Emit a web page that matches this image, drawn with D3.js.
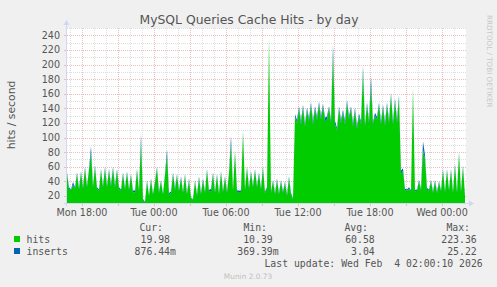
<!DOCTYPE html>
<html><head><meta charset="utf-8">
<script src="https://cdn.jsdelivr.net/npm/d3@7"></script>
<style>
html,body{margin:0;padding:0;background:#f0f0f0;}
svg{display:block;}
text{font-family:"DejaVu Sans",sans-serif;}
.mono{font-family:"DejaVu Sans Mono",monospace;white-space:pre;}
</style></head><body>
<script>
// ---------- data (10-minute samples from Mon 16:45) ----------
const hits = [
 50,30,28,35,30,50,29,52,30,58,
 32,55,80,32,60,30,27,55,32,58,
 32,55,33,58,32,55,30,27,50,29,
 52,28,48,25,25,55,26,95,14,11,
 40,20,42,22,38,58,24,40,22,48,
 76,22,24,50,28,48,26,45,24,48,
 22,42,17,15,40,20,45,22,42,24,
 55,26,27,50,24,48,22,52,25,45,
 24,50,92,27,80,26,24,26,107,28,
 58,30,52,32,55,32,50,29,58,24,
 30,235,24,40,22,42,22,40,24,38,
 20,45,22,16,128,120,140,118,142,115,
 138,122,145,118,140,124,146,125,143,122,
 125,140,120,215,118,110,140,120,135,118,
 148,125,140,115,138,112,130,118,190,115,
 145,120,172,118,130,125,145,118,142,116,
 145,120,158,118,150,120,155,50,55,28,
 27,30,26,165,26,27,40,28,83,70,
 29,27,40,24,40,24,38,26,55,25,
 55,27,55,24,62,24,78,25,60,20
];
const inserts = [
 2,2,1,4,2,2,2,2,2,2,
 2,2,8,2,2,2,2,2,2,2,
 2,2,3,2,3,2,2,2,2,2,
 2,2,2,2,3,2,2,10,2,1,
 2,1,2,1,2,2,2,2,1,2,
 8,2,2,2,3,2,2,2,2,2,
 2,2,1,1,2,2,2,2,2,2,
 2,2,3,2,2,2,2,2,2,2,
 2,2,10,2,2,2,3,2,2,2,
 2,2,2,2,2,2,2,2,2,2,
 2,3,2,2,2,2,2,2,2,2,
 2,2,2,1,4,4,3,5,3,4,
 3,4,3,5,3,4,3,4,3,5,
 4,3,4,12,5,3,3,4,3,5,
 3,4,3,5,3,4,3,4,8,3,
 3,4,12,3,4,3,3,4,3,5,
 3,4,3,4,3,5,3,5,3,2,
 2,2,2,3,2,2,2,2,12,6,
 2,2,2,2,2,2,2,2,2,2,
 2,2,2,2,2,2,2,2,2,1
];
const xTickLabels = ["Mon 18:00","Tue 00:00","Tue 06:00","Tue 12:00","Tue 18:00","Wed 00:00"];
const yTickValues = [20,40,60,80,100,120,140,160,180,200,220,240];
const seriesNames = ["hits","inserts"];
const seriesColors = ["#00cc00","#0066b3"];
const legendHeaders = ["Cur:","Min:","Avg:","Max:"];
const legendHits = ["19.98","10.39","60.58","223.36"];
const legendInserts = ["876.44m","369.39m","3.04","25.22"];
const titleText = "MySQL Queries Cache Hits - by day";
const yLabel = "hits / second";
const lastUpdate = "Last update: Wed Feb  4 02:00:10 2026";
const footer = "Munin 2.0.73";
const sideText = "RRDTOOL / TOBI OETIKER";

// ---------- layout ----------
const W = 497, H = 287;
const L = 67, R = 466, T = 28, B = 203;
const start = new Date(2026,1,2,16,45), end = new Date(2026,1,4,2,0);
const times = hits.map((d,i)=> new Date(start.getTime() + i*10*60000));
const x = d3.scaleTime().domain([start,end]).range([L,R]);
const y = d3.scaleLinear().domain([10.39,250]).range([B,T]);

const svg = d3.select("body").append("svg").attr("width",W).attr("height",H);
svg.append("rect").attr("width",W).attr("height",H).attr("fill","#f0f0f0");
svg.append("rect").attr("x",L).attr("y",T).attr("width",R-L).attr("height",B-T).attr("fill","#ffffff");

// grid
const minC = "#dedede", majC = "#efbcbc";
const g = svg.append("g");
const minorY = d3.range(30,251,20);
g.selectAll(".hmin").data(minorY).join("line")
  .attr("x1",L).attr("x2",R).attr("y1",d=>Math.round(y(d))+0.5).attr("y2",d=>Math.round(y(d))+0.5)
  .attr("stroke",minC).attr("stroke-dasharray","1,1");
const hourTicks = d3.timeHour.range(d3.timeHour.ceil(start), end);
g.selectAll(".vmin").data(hourTicks.filter(d=>d.getHours()%3!==0)).join("line")
  .attr("y1",T).attr("y2",B).attr("x1",d=>Math.round(x(d))+0.5).attr("x2",d=>Math.round(x(d))+0.5)
  .attr("stroke",minC).attr("stroke-dasharray","1,1");
g.selectAll(".hmaj").data(yTickValues).join("line")
  .attr("x1",L).attr("x2",R).attr("y1",d=>Math.round(y(d))+0.5).attr("y2",d=>Math.round(y(d))+0.5)
  .attr("stroke",majC).attr("stroke-dasharray","1,1");
const majX = hourTicks.filter(d=>d.getHours()%3===0);
g.selectAll(".vmaj").data(majX).join("line")
  .attr("y1",T).attr("y2",B).attr("x1",d=>Math.round(x(d))+0.5).attr("x2",d=>Math.round(x(d))+0.5)
  .attr("stroke",majC).attr("stroke-dasharray","1,1");

// areas (stacked)
const stackData = hits.map((h,i)=>({t:times[i], hits:h, inserts:inserts[i]}));
const stack = d3.stack().keys(seriesNames)(stackData);
const area = d3.area().x(d=>x(d.data.t)).y0(d=>d[0]===0?B:y(d[0])).y1(d=>y(d[1]));
svg.append("g").selectAll("path").data(stack).join("path")
  .attr("d",area).attr("fill",(d,i)=>seriesColors[i]);

// axes
const axisC = "#cfd6f8";
svg.append("line").attr("x1",L-0.5).attr("x2",L-0.5).attr("y1",B+3).attr("y2",T-5).attr("stroke",axisC);
svg.append("path").attr("d",`M${L-3.5},${T-3} L${L-0.5},${T-8} L${L+2.5},${T-3} Z`).attr("fill",axisC);
svg.append("line").attr("x1",L-3).attr("x2",R+5).attr("y1",B+0.5).attr("y2",B+0.5).attr("stroke",axisC);
svg.append("path").attr("d",`M${R+3},${B-2.5} L${R+8},${B+0.5} L${R+3},${B+3.5} Z`).attr("fill",axisC);

// ticks
svg.selectAll(".yt").data(yTickValues).join("line")
  .attr("x1",L-3).attr("x2",L-1).attr("y1",d=>Math.round(y(d))+0.5).attr("y2",d=>Math.round(y(d))+0.5)
  .attr("stroke",majC);
svg.selectAll(".xt").data(majX).join("line")
  .attr("y1",B+1).attr("y2",B+3).attr("x1",d=>Math.round(x(d))+0.5).attr("x2",d=>Math.round(x(d))+0.5)
  .attr("stroke",majC);

// tick labels
svg.selectAll(".yl").data(yTickValues).join("text")
  .attr("x",60).attr("y",d=>y(d)+3.5).attr("text-anchor","end")
  .attr("font-size","9.6px").attr("fill","#555").text(d=>d);
const xTickTimes = hourTicks.filter(d=>d.getHours()%6===0);
const fmt = d3.timeFormat("%a %H:%M");
svg.selectAll(".xl").data(xTickTimes).join("text")
  .attr("x",d=>x(d)).attr("y",216).attr("text-anchor","middle")
  .attr("font-size","9.6px").attr("fill","#555").text((d,i)=>xTickLabels[i] || fmt(d));

// title & labels
svg.append("text").attr("x",249).attr("y",24).attr("text-anchor","middle")
  .attr("font-size","12.4px").attr("fill","#555").text(titleText);
svg.append("text").attr("transform","translate(15,115) rotate(-90)").attr("text-anchor","middle")
  .attr("font-size","10.8px").attr("fill","#555").text(yLabel);
svg.append("text").attr("transform","translate(487,15) rotate(90)").attr("text-anchor","start")
  .attr("font-size","7.2px").attr("fill","#c8c8c8").text(sideText);

// legend
const lf = "9.8px";
const hdrX = [163,267,368,470];
svg.selectAll(".lh").data(legendHeaders).join("text").attr("class","mono")
  .attr("x",(d,i)=>hdrX[i]).attr("y",231).attr("text-anchor","end")
  .attr("font-size",lf).attr("fill","#555").text(d=>d);
const colX = [170,272.7,374.7,476.7];
const cw = 5.9;
const rows = [legendHits, legendInserts];
rows.forEach((vals,r)=>{
  const yy = 242.5 + r*12;
  svg.append("rect").attr("x",14).attr("y",yy-6.5).attr("width",6).attr("height",6).attr("fill",seriesColors[r]);
  svg.append("text").attr("class","mono").attr("x",26.5).attr("y",yy).attr("font-size",lf).attr("fill","#555").text(seriesNames[r]);
  vals.forEach((v,c)=>{
    const suf = /[a-z]$/i.test(v);
    svg.append("text").attr("class","mono").attr("x",colX[c] + (suf?cw:0)).attr("y",yy)
      .attr("text-anchor","end").attr("font-size",lf).attr("fill","#555").text(v);
  });
});
svg.append("text").attr("class","mono").attr("x",482.7).attr("y",266.5).attr("text-anchor","end")
  .attr("font-size",lf).attr("fill","#555").text(lastUpdate);
svg.append("text").attr("x",248).attr("y",278.5).attr("text-anchor","middle")
  .attr("font-size","7.4px").attr("fill","#c0c0c0").text(footer);
</script>
</body></html>
